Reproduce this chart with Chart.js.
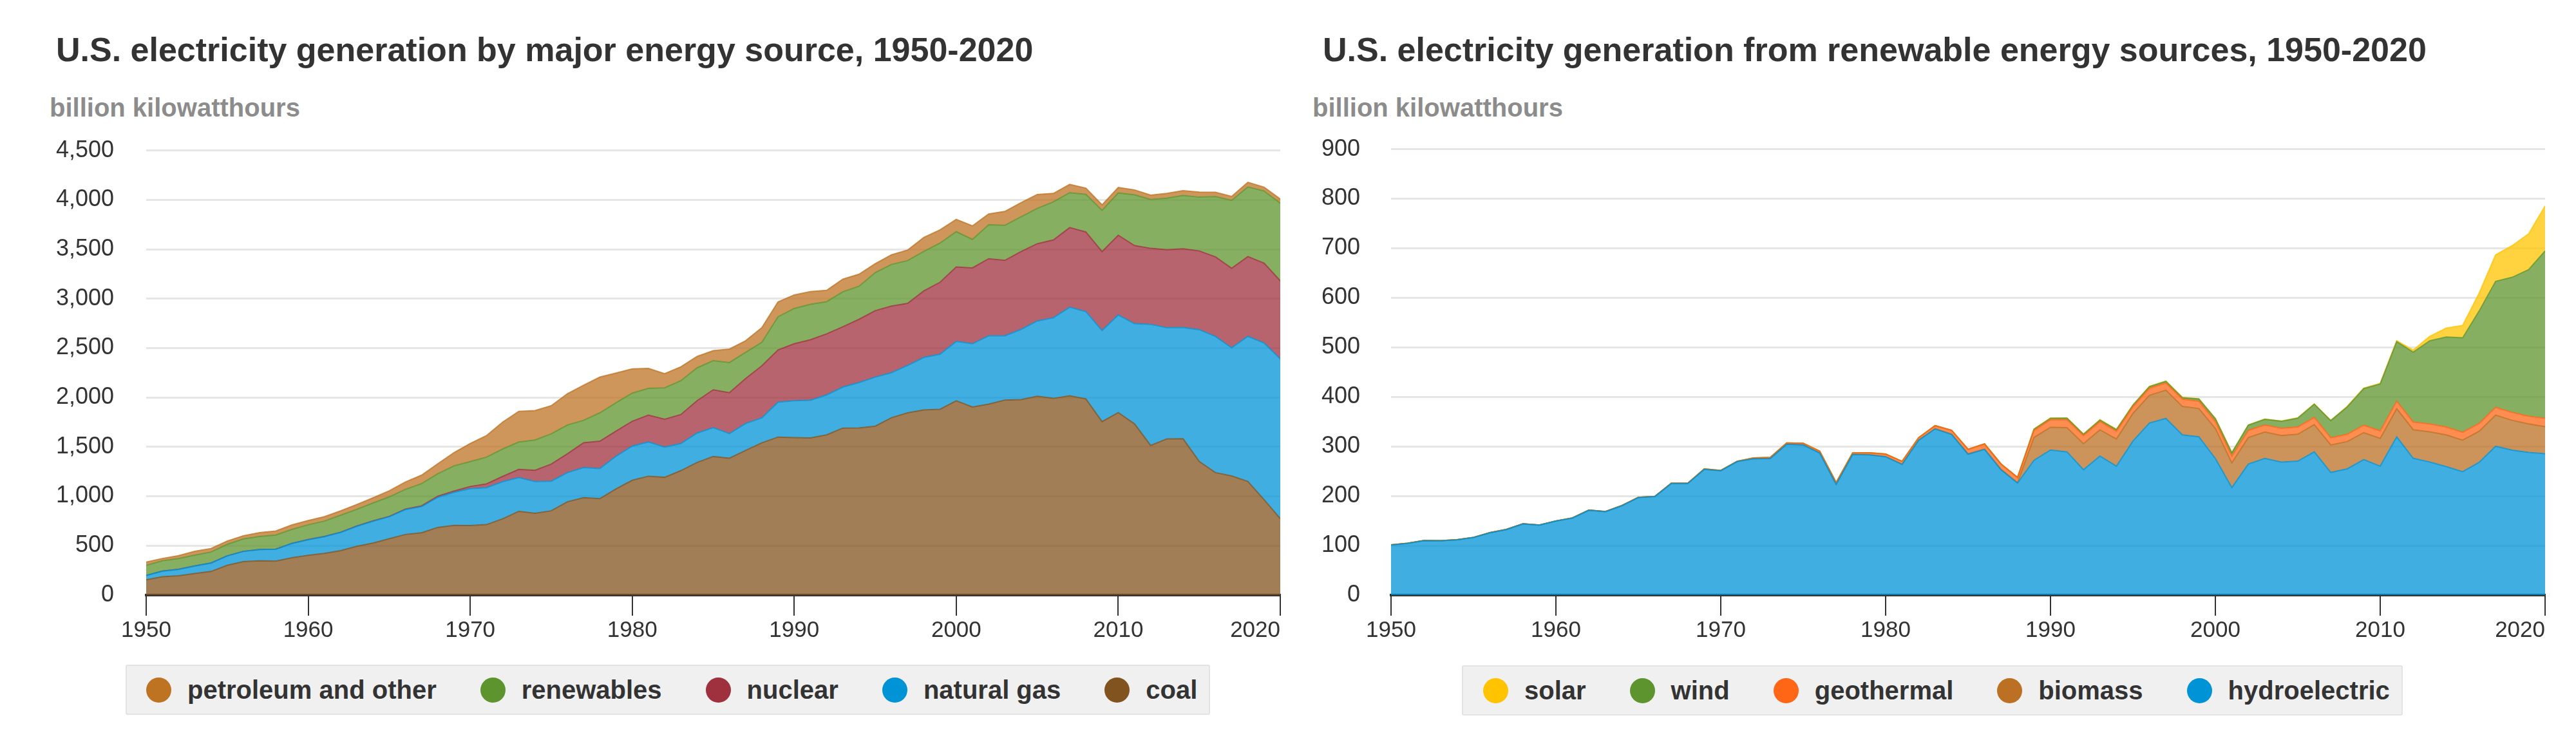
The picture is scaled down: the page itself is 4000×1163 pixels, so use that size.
<!DOCTYPE html>
<html lang="en">
<head>
<meta charset="utf-8">
<title>U.S. electricity generation, 1950-2020</title>
<script src="https://cdn.jsdelivr.net/npm/chart.js@4.4.1/dist/chart.umd.min.js"></script>
<style>
  html, body { margin: 0; padding: 0; background: #fff; }
  body { position: relative; width: 4000px; height: 1163px; overflow: hidden; font-family: 'Liberation Sans', Arial, sans-serif; }
  .title { position: absolute; top: 51px; font-size: 52px; line-height: 52px; font-weight: bold; color: #333; white-space: nowrap; }
  .unit { position: absolute; top: 147px; font-size: 40px; line-height: 40px; font-weight: bold; color: #8c8c8c; white-space: nowrap; }
  canvas { position: absolute; top: 162px; }
  .legend { position: absolute; height: 78px; box-sizing: border-box; display: flex; align-items: center; padding: 0 18px 0 30px; background: #f0f0f0; border: 2px solid #e3e3e3; border-radius: 3px; }
  .legend-item { display: flex; align-items: center; margin-right: 68px; font-size: 40px; font-weight: bold; color: #333; white-space: nowrap; }
  .legend-item:last-child { margin-right: 0; }
  .legend-dot { display: inline-block; width: 39px; height: 39px; border-radius: 50%; margin-right: 25px; }
</style>
</head>
<body>
  <div class="title" style="left: 87px;">U.S. electricity generation by major energy source, 1950-2020</div>
  <div class="unit" style="left: 77px;">billion kilowatthours</div>
  <canvas id="chartMajor" width="2000" height="842" style="left: 0px;"></canvas>
  <div class="legend" id="legendMajor" style="left: 195px; top: 1032px;"></div>

  <div class="title" style="left: 2054px;">U.S. electricity generation from renewable energy sources, 1950-2020</div>
  <div class="unit" style="left: 2038px;">billion kilowatthours</div>
  <canvas id="chartRenew" width="2000" height="842" style="left: 2000px;"></canvas>
  <div class="legend" id="legendRenew" style="left: 2270px; top: 1033px; padding-left: 31px;"></div>

<script>
// years on the x axis
const years = [
  1950, 1951, 1952, 1953, 1954, 1955, 1956, 1957, 1958, 1959,
  1960, 1961, 1962, 1963, 1964, 1965, 1966, 1967, 1968, 1969,
  1970, 1971, 1972, 1973, 1974, 1975, 1976, 1977, 1978, 1979,
  1980, 1981, 1982, 1983, 1984, 1985, 1986, 1987, 1988, 1989,
  1990, 1991, 1992, 1993, 1994, 1995, 1996, 1997, 1998, 1999,
  2000, 2001, 2002, 2003, 2004, 2005, 2006, 2007, 2008, 2009,
  2010, 2011, 2012, 2013, 2014, 2015, 2016, 2017, 2018, 2019,
  2020
]

// left chart, billion kWh
const coal = [
  154.5, 185.2, 195.4, 218.8, 239.1, 301.4, 338.5, 346.4, 344.4, 378.4,
  403.1, 422.0, 450.2, 493.9, 526.2, 570.9, 613.5, 630.5, 684.9, 706.0,
  704.4, 713.1, 771.1, 847.7, 828.4, 852.8, 944.4, 985.2, 975.7, 1075.0,
  1161.6, 1203.2, 1192.0, 1259.4, 1341.7, 1402.1, 1385.8, 1463.8, 1540.7, 1599.0,
  1594.0, 1590.6, 1621.2, 1690.1, 1690.7, 1709.4, 1795.2, 1845.0, 1873.5, 1881.1,
  1966.3, 1904.0, 1933.1, 1973.7, 1978.3, 2012.9, 1990.5, 2016.5, 1985.8, 1755.9,
  1847.3, 1733.4, 1514.0, 1581.1, 1581.7, 1352.4, 1239.1, 1205.8, 1149.5, 965.0,
  773.4
]
const naturalGas = [
  44.6, 57.0, 65.0, 76.0, 85.0, 95.3, 104.0, 114.0, 120.0, 145.0,
  158.0, 169.0, 184.0, 202.0, 222.0, 221.6, 251.2, 264.8, 304.4, 333.3,
  372.9, 374.0, 375.7, 340.9, 320.1, 299.8, 294.6, 305.5, 305.4, 329.5,
  346.2, 345.8, 305.3, 274.1, 297.4, 291.9, 248.5, 272.6, 252.8, 352.6,
  372.8, 381.6, 404.1, 414.9, 460.2, 496.1, 455.1, 479.4, 531.3, 556.4,
  601.0, 639.1, 691.0, 649.9, 710.1, 761.0, 816.4, 896.6, 883.0, 921.0,
  987.7, 1013.7, 1225.9, 1124.8, 1126.6, 1333.5, 1378.3, 1296.4, 1469.1, 1585.8,
  1617.5
]
const nuclear = [
  0, 0, 0, 0, 0, 0, 0, 0.01, 0.2, 0.2,
  0.5, 1.7, 2.3, 3.2, 3.3, 3.7, 5.5, 7.7, 12.5, 13.9,
  21.8, 38.1, 54.1, 83.5, 114.0, 172.5, 191.1, 250.9, 276.4, 255.2,
  251.1, 272.7, 282.8, 293.7, 327.6, 383.7, 414.0, 455.3, 527.0, 529.4,
  576.9, 612.6, 618.8, 610.3, 640.4, 673.4, 674.7, 628.6, 673.7, 728.3,
  753.9, 768.8, 780.1, 763.7, 788.5, 782.0, 787.2, 806.4, 806.2, 798.9,
  807.0, 790.2, 769.3, 789.0, 797.2, 797.2, 805.7, 804.9, 807.1, 809.4,
  789.9
]
const renewables = [
  101.3, 104.8, 110.1, 109.9, 111.9, 116.5, 126.0, 132.5, 143.8, 141.5,
  149.6, 155.8, 171.5, 168.7, 180.7, 197.4, 199.3, 225.7, 225.9, 254.6,
  251.6, 270.2, 276.9, 277.8, 307.1, 306.6, 290.4, 227.2, 286.9, 287.3,
  284.6, 269.9, 317.6, 341.9, 332.6, 294.3, 305.1, 264.6, 237.4, 335.1,
  357.3, 357.5, 325.0, 353.8, 334.5, 383.7, 421.2, 432.0, 399.0, 396.3,
  356.5, 287.6, 343.5, 355.2, 351.4, 357.7, 385.8, 352.7, 380.9, 417.7,
  427.4, 513.4, 494.5, 522.1, 538.7, 544.2, 609.5, 686.6, 705.2, 729.0,
  785.5
]
const petroleumOther = [
  33.7, 23.7, 28.7, 38.0, 35.7, 33.8, 32.0, 38.6, 40.0, 45.0,
  43.5, 45.5, 44.0, 49.0, 52.0, 61.0, 75.0, 85.0, 101.0, 134.0,
  184.0, 218.0, 272.0, 310.0, 298.0, 285.0, 318.0, 355.0, 362.0, 300.0,
  246.0, 203.0, 143.0, 141.0, 116.0, 101.0, 137.0, 118.0, 149.0, 151.0,
  137.0, 130.0, 115.0, 128.0, 122.0, 91.0, 98.0, 107.0, 142.0, 134.0,
  124.0, 137.0, 110.0, 140.0, 143.0, 141.0, 85.0, 84.0, 63.0, 56.0,
  56.0, 50.0, 44.0, 49.0, 49.0, 51.0, 44.0, 41.0, 47.0, 39.0,
  42.0
]

// right chart, billion kWh
const hydroelectric = [
  100.9, 104.4, 109.7, 109.6, 111.6, 116.2, 125.7, 132.2, 143.6, 141.3,
  149.4, 155.5, 171.2, 168.3, 180.3, 197.0, 198.9, 225.2, 225.3, 253.7,
  251.0, 269.6, 275.3, 275.6, 304.4, 303.2, 286.6, 223.4, 283.7, 283.1,
  279.2, 263.8, 312.4, 335.3, 324.3, 284.3, 294.0, 252.9, 226.1, 272.1,
  292.9, 289.0, 253.1, 280.5, 260.1, 310.8, 347.2, 356.5, 323.3, 319.5,
  275.6, 217.0, 264.3, 275.8, 268.4, 270.3, 289.2, 247.5, 254.8, 273.4,
  260.2, 319.4, 276.2, 268.6, 259.4, 249.1, 267.8, 300.3, 292.5, 287.9,
  285.3
]
const biomass = [
  0.4, 0.4, 0.4, 0.3, 0.3, 0.3, 0.3, 0.3, 0.2, 0.2,
  0.2, 0.2, 0.2, 0.2, 0.2, 0.2, 0.2, 0.2, 0.2, 0.2,
  0.1, 0.1, 0.1, 0.2, 0.2, 0.2, 0.2, 0.2, 0.2, 0.3,
  0.3, 0.4, 0.4, 0.5, 0.6, 0.7, 0.8, 0.9, 1.0, 46.0,
  45.8, 49.0, 52.5, 53.0, 55.0, 55.8, 56.0, 57.0, 57.4, 57.0,
  60.7, 49.7, 53.7, 53.3, 53.5, 54.3, 54.9, 55.5, 55.0, 54.5,
  56.1, 56.7, 57.6, 60.9, 64.0, 63.6, 62.8, 62.8, 60.2, 57.5,
  54.5
]
const geothermal = [
  0, 0, 0, 0, 0, 0, 0, 0, 0, 0,
  0.03, 0.1, 0.1, 0.2, 0.2, 0.2, 0.2, 0.3, 0.4, 0.7,
  0.5, 0.5, 1.5, 2.0, 2.5, 3.2, 3.6, 3.6, 3.0, 3.9,
  5.1, 5.7, 4.8, 6.1, 7.7, 9.3, 10.3, 10.8, 10.3, 14.6,
  15.4, 16.0, 16.1, 16.8, 15.5, 13.4, 14.3, 14.7, 14.8, 14.8,
  14.1, 13.7, 14.5, 14.4, 14.8, 14.7, 14.6, 14.6, 14.8, 15.0,
  15.2, 15.3, 15.6, 15.8, 15.9, 15.9, 15.8, 15.9, 16.0, 15.5,
  16.9
]
const wind = [
  0, 0, 0, 0, 0, 0, 0, 0, 0, 0,
  0, 0, 0, 0, 0, 0, 0, 0, 0, 0,
  0, 0, 0, 0, 0, 0, 0, 0, 0, 0,
  0, 0, 0, 0, 0, 0, 0, 0, 0, 2.1,
  2.8, 3.0, 2.9, 3.0, 3.4, 3.2, 3.2, 3.3, 3.0, 4.5,
  5.6, 6.7, 10.4, 11.2, 14.1, 17.8, 26.6, 34.5, 55.4, 73.9,
  94.7, 120.2, 140.8, 167.8, 181.7, 190.7, 227.0, 254.3, 272.7, 295.9,
  337.9
]
const solar = [
  0, 0, 0, 0, 0, 0, 0, 0, 0, 0,
  0, 0, 0, 0, 0, 0, 0, 0, 0, 0,
  0, 0, 0, 0, 0, 0, 0, 0, 0, 0,
  0, 0, 0, 0, 0, 0, 0, 0, 0, 0.3,
  0.4, 0.5, 0.4, 0.5, 0.5, 0.5, 0.5, 0.5, 0.5, 0.5,
  0.5, 0.5, 0.6, 0.5, 0.6, 0.6, 0.5, 0.6, 0.9, 0.9,
  1.2, 1.8, 4.3, 9.0, 17.7, 24.9, 36.1, 53.3, 63.8, 72.2,
  90.9
]

const majorLabels = ['coal', 'natural gas', 'nuclear', 'renewables', 'petroleum and other']
const renewLabels = ['hydroelectric', 'biomass', 'geothermal', 'wind', 'solar']
const xTicks = [1950, 1960, 1970, 1980, 1990, 2000, 2010, 2020]

// series colours (legend dots); areas use them at 75% opacity
const majorColors = ['#81531e', '#0093d6', '#9f303e', '#5e942e', '#be7323']
const renewColors = ['#0093d6', '#bb7023', '#ff6616', '#5e942e', '#ffc300']

Chart.defaults.font.family = "'Liberation Sans', Arial, sans-serif"
Chart.defaults.color = '#333'

const hexToRgba = (hex, alpha) => {
  const n = parseInt(hex.slice(1), 16)
  return `rgba(${(n >> 16) & 255}, ${(n >> 8) & 255}, ${n & 255}, ${alpha})`
}

const areaDataset = (label, values, color, index) => ({
  label: label,
  data: values.map((value, i) => ({ x: years[i], y: value })),
  backgroundColor: hexToRgba(color, 0.75),
  borderColor: hexToRgba(color, 0.75),
  borderWidth: 2,
  pointRadius: 0,
  pointHoverRadius: 0,
  tension: 0,
  fill: index === 0 ? 'origin' : '-1',
  legendColor: color,
})

const graphConfigFactory = (datasets, yMax, yStep, frame) => ({
  type: 'line',
  data: { datasets: datasets },
  options: {
    responsive: false,
    animation: false,
    devicePixelRatio: 1,
    layout: { padding: { top: 29, right: frame.padRight, bottom: 0, left: 0 } },
    plugins: { legend: { display: false }, tooltip: { enabled: false } },
    scales: {
      x: {
        type: 'linear',
        min: xTicks[0],
        max: xTicks[xTicks.length - 1],
        afterFit: (scale) => {
          scale.height = 80
          scale.paddingLeft = 0
          scale.paddingRight = 0
        },
        afterBuildTicks: (scale) => {
          scale.ticks = xTicks.map(v => ({ value: v }))
        },
        ticks: {
          font: { size: 35 },
          color: '#333',
          padding: 2,
          maxRotation: 0,
          autoSkip: false,
          // last label sits left of its tick, like the original
          callback: (value) => value === xTicks[xTicks.length - 1]
            ? `${value}\u2007\u2007\u2007\u2007` : `${value}`,
        },
        grid: { drawOnChartArea: false, drawTicks: true, tickLength: 32, color: '#333', lineWidth: 2 },
        border: { display: true, color: '#333', width: 4 },
      },
      y: {
        stacked: true,
        min: 0,
        max: yMax,
        afterFit: (scale) => { scale.width = frame.axisWidth },
        ticks: { stepSize: yStep, font: { size: 36 }, color: '#333', padding: frame.tickPad },
        grid: { color: '#e6e6e6', lineWidth: 3, drawTicks: false },
        border: { display: false },
      },
    },
  },
})

const buildLegend = (elementId, datasets) => {
  const legend = document.getElementById(elementId)
  datasets.slice().reverse().forEach((dataset) => {
    const item = document.createElement('div')
    item.className = 'legend-item'
    const dot = document.createElement('span')
    dot.className = 'legend-dot'
    dot.style.background = dataset.legendColor
    item.appendChild(dot)
    item.appendChild(document.createTextNode(dataset.label))
    legend.appendChild(item)
  })
}

const majorSeries = [coal, naturalGas, nuclear, renewables, petroleumOther]
const renewSeries = [hydroelectric, biomass, geothermal, wind, solar]

const majorDatasets = majorSeries.map((values, i) => areaDataset(majorLabels[i], values, majorColors[i], i))
const renewDatasets = renewSeries.map((values, i) => areaDataset(renewLabels[i], values, renewColors[i], i))

const chartMajor = new Chart(
  document.getElementById('chartMajor').getContext('2d'),
  graphConfigFactory(majorDatasets, 4500, 500, { axisWidth: 227, tickPad: 50, padRight: 12 })
)
const chartRenew = new Chart(
  document.getElementById('chartRenew').getContext('2d'),
  graphConfigFactory(renewDatasets, 900, 100, { axisWidth: 160, tickPad: 48, padRight: 48 })
)

buildLegend('legendMajor', majorDatasets)
buildLegend('legendRenew', renewDatasets)
</script>
</body>
</html>
